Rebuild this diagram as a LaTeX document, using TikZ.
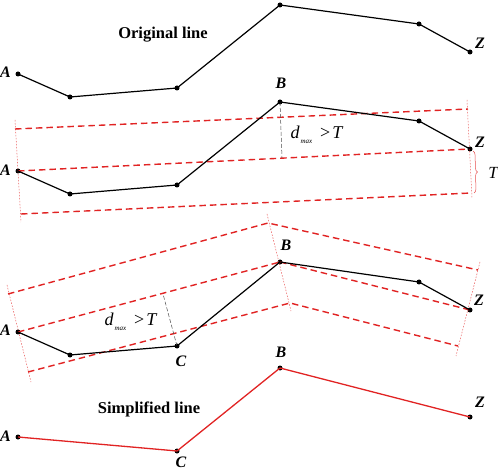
\documentclass[tikz,border=0pt]{standalone}
\usepackage{fontspec}
\setmainfont{Liberation Serif}
\usetikzlibrary{decorations.pathreplacing}
\definecolor{bandred}{RGB}{225,35,35}
\begin{document}
\begin{tikzpicture}[x=1pt,y=-1pt,
  poly/.style={line width=1.2pt,black},
  simp/.style={line width=1.3pt,bandred},
  band/.style={bandred,line width=1.4pt,dash pattern=on 6.5pt off 4pt},
  bandedge/.style={bandred!75,line width=0.5pt,dash pattern=on 1.5pt off 1.5pt},
  perp/.style={black!70,line width=0.5pt,dash pattern=on 4pt off 2pt},
  lbl/.style={font=\fontsize{16}{16}\selectfont\bfseries\itshape, inner sep=0pt},
  title/.style={font=\fontsize{16.5}{16.5}\selectfont\bfseries, inner sep=0pt},
  dlbl/.style={font=\fontsize{18}{18}\selectfont, inner sep=0pt},
  dot/.style={circle,fill,inner sep=0pt,minimum size=5pt}]
\useasboundingbox (0,0) rectangle (498,470);

% ---------- Panel 1: original line ----------
\node[dot] (a1) at (18,74) {};
\node[dot] (p1) at (70,97) {};
\node[dot] (q1) at (177,88) {};
\node[dot] (b1) at (280,5) {};
\node[dot] (r1) at (419,24) {};
\node[dot] (z1) at (470,52) {};
\draw[poly] (a1.center) -- (p1.center) -- (q1.center) -- (b1.center) -- (r1.center) -- (z1.center);
\node[lbl] (la1) at (5.5,72) {A};
\node[lbl] (lz1) at (480,43) {Z};
\node[title] (t1) at (163,35) {Original line};

% ---------- Panel 2: first split ----------
\coordinate (u2l) at (15,129);
\coordinate (u2r) at (468,109);
\coordinate (l2l) at (21,214);
\coordinate (l2r) at (471,193);
\coordinate (e2lt) at (15,120);
\coordinate (e2lb) at (21,222);
\coordinate (e2rt) at (467,100);
\coordinate (e2rb) at (472,198);
\coordinate (f2) at (282,158);
\node[dot] (a2) at (18,171) {};
\node[dot] (p2) at (70,194) {};
\node[dot] (q2) at (177,185) {};
\node[dot] (b2) at (280,102) {};
\node[dot] (r2) at (419,121) {};
\node[dot] (z2) at (470,149) {};
\draw[bandedge] (e2lt) -- (e2lb);
\draw[bandedge] (e2rt) -- (e2rb);
\draw[band] (u2l) -- (u2r);
\draw[band] (l2l) -- (l2r);
\draw[band] (a2.center) -- (z2.center);
\draw[perp] (b2.center) -- (f2);
\draw[poly] (a2.center) -- (p2.center) -- (q2.center) -- (b2.center) -- (r2.center) -- (z2.center);
\coordinate (br2t) at (473,151);
\coordinate (br2b) at (474,193);
\draw[bandred!80,line width=0.5pt,decorate,decoration={brace,amplitude=4pt}] (br2t) -- (br2b);
\node[lbl,font=\fontsize{17}{17}\selectfont\itshape] (lt2) at (493,173) {T};
\node[lbl] (la2) at (5.5,170) {A};
\node[lbl] (lb2) at (281,83) {B};
\node[lbl] (lz2) at (480,142) {Z};
\node[dlbl] (d2) at (317,135) {\textit{d}\kern1pt\raisebox{-5pt}{\fontsize{7}{7}\selectfont\textit{max}}\kern8pt>\kern2pt\textit{T}};

% ---------- Panel 3: second split ----------
\coordinate (u3l) at (8,294);
\coordinate (cu) at (268,223);
\coordinate (u3r) at (478,270);
\coordinate (l3l) at (28,372);
\coordinate (cl) at (290,303);
\coordinate (l3r) at (458,346);
\coordinate (e3lt) at (7,285);
\coordinate (e3lb) at (31,382);
\coordinate (e3mt) at (267,214);
\coordinate (e3mb) at (291,311);
\coordinate (e3rt) at (480,262);
\coordinate (e3rb) at (456,356);
\coordinate (f3) at (163,294);
\node[dot] (a3) at (18,332) {};
\node[dot] (p3) at (70,355) {};
\node[dot] (c3) at (177,346) {};
\node[dot] (b3) at (280,262) {};
\node[dot] (r3) at (419,282) {};
\node[dot] (z3) at (470,310) {};
\draw[bandedge] (e3lt) -- (e3lb);
\draw[bandedge] (e3mt) -- (e3mb);
\draw[bandedge] (e3rt) -- (e3rb);
\draw[band] (u3l) -- (cu) -- (u3r);
\draw[band] (l3l) -- (cl) -- (l3r);
\draw[band] (a3.center) -- (b3.center);
\draw[band] (b3.center) -- (z3.center);
\draw[perp] (c3.center) -- (f3);
\draw[poly] (a3.center) -- (p3.center) -- (c3.center) -- (b3.center) -- (r3.center) -- (z3.center);
\node[lbl] (la3) at (5.5,330) {A};
\node[lbl] (lc3) at (181,361) {C};
\node[lbl] (lb3) at (286,245) {B};
\node[lbl] (lz3) at (479,300) {Z};
\node[dlbl] (d3) at (131,322) {\textit{d}\kern1pt\raisebox{-5pt}{\fontsize{7}{7}\selectfont\textit{max}}\kern8pt>\kern2pt\textit{T}};

% ---------- Panel 4: simplified line ----------
\node[dot] (a4) at (18,437) {};
\node[dot] (c4) at (177,451) {};
\node[dot] (b4) at (280,368) {};
\node[dot] (z4) at (470,417) {};
\draw[simp] (a4.center) -- (c4.center) -- (b4.center) -- (z4.center);
\node[lbl] (la4) at (5.5,436) {A};
\node[lbl] (lc4) at (181,462) {C};
\node[lbl] (lb4) at (281,352) {B};
\node[lbl] (lz4) at (480,402) {Z};
\node[title] (t4) at (149,409) {Simplified line};
\end{tikzpicture}
\end{document}
